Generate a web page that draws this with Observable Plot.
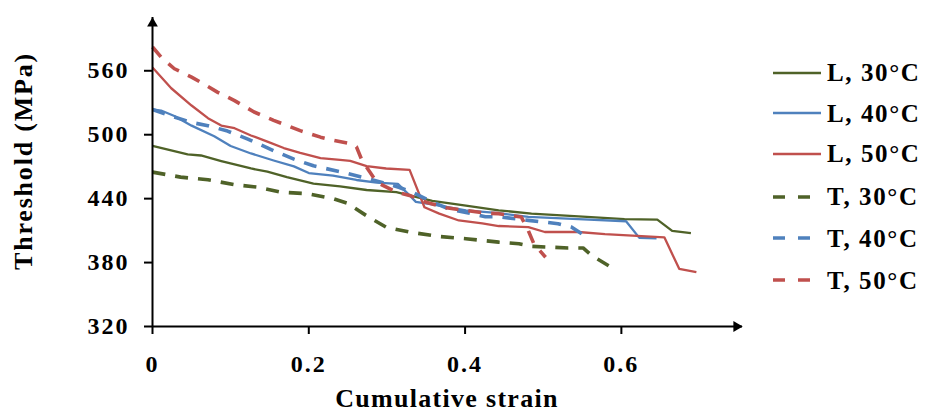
<!DOCTYPE html>
<html>
<head>
<meta charset="utf-8">
<script src="https://cdn.jsdelivr.net/npm/d3@7"></script>
<script src="https://cdn.jsdelivr.net/npm/@observablehq/plot@0.6"></script>
<style>
  html, body { margin: 0; padding: 0; background: #fff; }
  #wrap { position: relative; width: 925px; height: 412px; overflow: hidden; background: #fff;
          font-family: "Liberation Serif", "Times New Roman", serif; font-weight: bold; color: #000; }
  #chart { position: absolute; left: 0; top: 0; }
  #chart svg text { letter-spacing: 2px; }
  .ytitle { position: absolute; left: 24px; top: 161px; transform: translate(-50%, -50%) rotate(-90deg);
            font-size: 26px; line-height: 1; letter-spacing: 1.8px; white-space: nowrap; }
  .xtitle { position: absolute; left: 447px; top: 386px; transform: translateX(-50%);
            font-size: 26px; line-height: 1; letter-spacing: 1.3px; white-space: nowrap; }
  .leg { position: absolute; left: 773px; height: 25px; display: flex; align-items: center; white-space: nowrap; }
  .leg svg { display: block; }
  .leg span { font-size: 25px; line-height: 1; letter-spacing: 1.6px; margin-left: 6px; }
</style>
</head>
<body>
<div id="wrap">
  <div id="chart"></div>
  <div class="ytitle">Threshold (MPa)</div>
  <div class="xtitle">Cumulative strain</div>
</div>
<script>
// ---- data ----
const xTicks = [0, 0.2, 0.4, 0.6];
const yTicks = [320, 380, 440, 500, 560];

const L30_strain = [0, 0.045, 0.062, 0.088, 0.126, 0.147, 0.172, 0.206, 0.24, 0.274, 0.312, 0.329, 0.358, 0.401, 0.443, 0.485, 0.545, 0.604, 0.646, 0.665, 0.689];
const L30_threshold = [489.5, 481.5, 480.5, 475.3, 468.3, 465.3, 460.2, 454.1, 451.6, 448.1, 446.1, 443, 438, 433.5, 429, 426, 423.4, 420.8, 420.3, 409.7, 407.7];

const L40_strain = [0, 0.011, 0.028, 0.05, 0.079, 0.1, 0.126, 0.155, 0.181, 0.2, 0.231, 0.261, 0.287, 0.314, 0.329, 0.337, 0.358, 0.401, 0.443, 0.481, 0.545, 0.606, 0.623, 0.645];
const L40_threshold = [523.7, 522.7, 517.6, 508.5, 498.5, 489.4, 482.4, 475.8, 470.3, 464, 461.5, 457.5, 455, 453.8, 443, 437, 434.6, 429, 426.4, 422.8, 420.8, 418.8, 403.2, 402.7];

const L50_strain = [0, 0.024, 0.05, 0.071, 0.088, 0.105, 0.126, 0.147, 0.168, 0.189, 0.215, 0.24, 0.253, 0.274, 0.299, 0.329, 0.348, 0.367, 0.392, 0.422, 0.443, 0.481, 0.502, 0.545, 0.579, 0.655, 0.674, 0.696];
const L50_threshold = [563.1, 543.6, 527.4, 515.5, 508.6, 506.1, 499.3, 493.5, 487.5, 483, 478, 476.4, 475.4, 470.6, 468.3, 467, 431.9, 425.9, 419.5, 416.8, 414.3, 413.3, 408.7, 408.7, 406.7, 403.7, 374.1, 371];

const T30_strain = [0, 0.036, 0.071, 0.105, 0.134, 0.164, 0.198, 0.232, 0.249, 0.274, 0.299, 0.329, 0.367, 0.401, 0.443, 0.469, 0.485, 0.532, 0.551, 0.562, 0.588];
const T30_threshold = [464.9, 460.2, 457.7, 453.1, 450.8, 446.1, 444.6, 439.8, 435.8, 423.9, 413.2, 408.6, 404.5, 402.4, 399.2, 397.7, 395.2, 393.7, 393.7, 386.6, 375.2];

const T40_strain = [0, 0.024, 0.05, 0.071, 0.096, 0.122, 0.155, 0.181, 0.206, 0.24, 0.27, 0.295, 0.316, 0.333, 0.359, 0.38, 0.401, 0.426, 0.443, 0.481, 0.519, 0.536, 0.55];
const T40_threshold = [523.7, 517.6, 511.5, 508.5, 503.4, 495.9, 485, 477.1, 470.8, 465.3, 459.9, 454.9, 450.5, 445.8, 436.4, 430.2, 427.1, 423, 423, 419.6, 416.5, 413.3, 406.7];

const T50_strain = [0, 0.011, 0.028, 0.05, 0.062, 0.083, 0.105, 0.13, 0.155, 0.189, 0.215, 0.232, 0.257, 0.261, 0.268, 0.287, 0.312, 0.329, 0.35, 0.376, 0.401, 0.426, 0.443, 0.472, 0.481, 0.488, 0.503];
const T50_threshold = [582.3, 572.8, 561.9, 554.1, 549.1, 540, 532, 521.3, 513.5, 503.8, 497.7, 494.7, 491, 488.6, 476, 455.3, 446.2, 443, 436.7, 431.4, 428.9, 426.4, 425.9, 422.7, 409.8, 397.7, 385];

const seriesNames = ["L, 30°C", "L, 40°C", "L, 50°C", "T, 30°C", "T, 40°C", "T, 50°C"];
const seriesColors = ["#4F6228", "#4F81BD", "#C0504D", "#4F6228", "#4F81BD", "#C0504D"];
const seriesDashed = [false, false, false, true, true, true];
const seriesX = [L30_strain, L40_strain, L50_strain, T30_strain, T40_strain, T50_strain];
const seriesY = [L30_threshold, L40_threshold, L50_threshold, T30_threshold, T40_threshold, T50_threshold];

// ---- build ----
const rows = seriesNames.flatMap((name, i) => seriesX[i].map((x, j) => ({series: name, strain: x, threshold: seriesY[i][j]})));

const lineMarks = seriesNames.map((name, i) => Plot.line(rows.filter(d => d.series === name), {
  x: "strain", y: "threshold",
  stroke: seriesColors[i],
  strokeWidth: seriesDashed[i] ? 3.6 : 2.3,
  strokeDasharray: seriesDashed[i] ? "13,10" : null,
  strokeLinecap: "butt",
  strokeLinejoin: "round"
}));

const chart = Plot.plot({
  width: 760, height: 412,
  marginLeft: 152, marginRight: 18, marginTop: 17, marginBottom: 86,
  x: {domain: [0, 0.755]},
  y: {domain: [320, 610]},
  style: {fontFamily: "'Liberation Serif', 'Times New Roman', serif", fontWeight: "bold", background: "white", color: "black"},
  marks: [
    ...lineMarks,
    Plot.ruleX([0], {stroke: "black", strokeWidth: 2}),
    Plot.ruleY([320], {stroke: "black", strokeWidth: 2}),
    Plot.axisX(xTicks, {tickSize: 8, tickPadding: 20, fontSize: 24, strokeWidth: 2, tickFormat: d => String(d), label: null}),
    Plot.axisY(yTicks, {tickSize: 8, tickPadding: 15, fontSize: 24, strokeWidth: 2, tickFormat: d => String(d), label: null}),
    Plot.dot([0], {x: 0, frameAnchor: "top", dy: 6, symbol: "triangle", r: 4, fill: "black", stroke: null}),
    Plot.dot([0], {y: 320, frameAnchor: "right", dx: -6, rotate: 90, symbol: "triangle", r: 4, fill: "black", stroke: null})
  ]
});
document.getElementById("chart").appendChild(chart);

// ---- legend ----
const legendRowsY = [72.7, 113, 153.5, 196.7, 238, 280];
const wrap = document.getElementById("wrap");
seriesNames.forEach((name, i) => {
  const item = document.createElement("div");
  item.className = "leg";
  item.style.top = (legendRowsY[i] - 12.5) + "px";
  const w = 48;
  const dash = seriesDashed[i] ? `stroke-dasharray="12,13"` : "";
  const lw = seriesDashed[i] ? 3.6 : 2.3;
  item.innerHTML = `<svg width="${w}" height="10"><line x1="0" x2="${seriesDashed[i] ? 37 : 48}" y1="5" y2="5" stroke="${seriesColors[i]}" stroke-width="${lw}" ${dash}/></svg><span>${name}</span>`;
  wrap.appendChild(item);
});
</script>
</body>
</html>
